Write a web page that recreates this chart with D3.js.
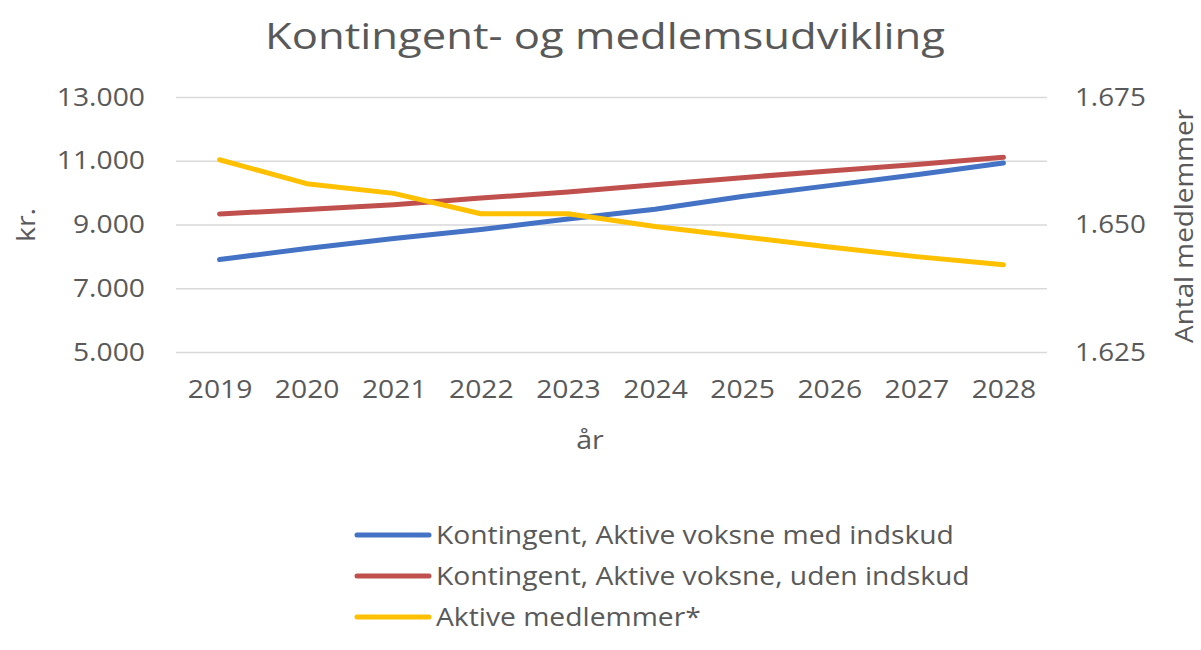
<!DOCTYPE html>
<html>
<head>
<meta charset="utf-8">
<script src="https://cdn.jsdelivr.net/npm/d3@7"></script>
<style>
  body { margin: 0; background: #fff; }
  svg text { font-family: "Open Sans", sans-serif; fill: #595959; }
</style>
</head>
<body>
<svg id="chart" width="1201" height="650"></svg>
<script>
const years = ["2019", "2020", "2021", "2022", "2023", "2024", "2025", "2026", "2027", "2028"];
const medIndskud = [7900, 8250, 8560, 8840, 9170, 9480, 9880, 10220, 10560, 10930];
const udenIndskud = [9330, 9470, 9620, 9830, 10020, 10250, 10470, 10680, 10880, 11110];
const medlemmer = [1662.7, 1658.0, 1656.1, 1652.1, 1652.1, 1649.6, 1647.6, 1645.6, 1643.7, 1642.1];
const leftTicks = [5000, 7000, 9000, 11000, 13000];
const rightTicks = [1625, 1650, 1675];

const series = [
    { label: "Kontingent, Aktive voksne med indskud", values: medIndskud, color: "#4472C4", axis: "left" },
    { label: "Kontingent, Aktive voksne, uden indskud", values: udenIndskud, color: "#C0504D", axis: "left" },
    { label: "Aktive medlemmer*", values: medlemmer, color: "#FFC000", axis: "right" }
];

const svg = d3.select("#chart");
const margin = { top: 97, right: 154, bottom: 298, left: 176 };
const W = 1201, H = 650;
const iw = W - margin.left - margin.right;
const ih = H - margin.top - margin.bottom;

const fmt = d3.formatLocale({ decimal: ",", thousands: ".", grouping: [3], currency: ["", " kr."] }).format(",.0f");

// the reference text is a little wider than Open Sans, so stretch it
function stretch(sel, k) {
    sel.each(function () {
        const w = this.getComputedTextLength();
        d3.select(this).attr("textLength", w * k).attr("lengthAdjust", "spacingAndGlyphs");
    });
}

const x = d3.scalePoint().domain(years).range([0, iw]).padding(0.5);
const yL = d3.scaleLinear().domain([5000, 13000]).range([ih, 0]);
const yR = d3.scaleLinear().domain([1625, 1675]).range([ih, 0]);

const g = svg.append("g").attr("transform", `translate(${margin.left},${margin.top})`);

// gridlines from the left axis
g.append("g")
    .call(d3.axisLeft(yL).tickValues(leftTicks).tickSize(-iw).tickFormat(""))
    .call(s => s.select(".domain").remove())
    .selectAll("line").attr("stroke", "#d9d9d9").attr("stroke-width", 1.5);

// left tick labels
g.append("g")
    .call(d3.axisLeft(yL).tickValues(leftTicks).tickSize(0).tickPadding(31).tickFormat(fmt))
    .call(s => s.select(".domain").remove())
    .selectAll("text").attr("font-size", "25px").style("font-family", null)
    .call(stretch, 1.13);

// right tick labels
g.append("g").attr("transform", `translate(${iw},0)`)
    .call(d3.axisRight(yR).tickValues(rightTicks).tickSize(0).tickPadding(28).tickFormat(d => fmt(d)))
    .call(s => s.select(".domain").remove())
    .selectAll("text").attr("font-size", "25px").style("font-family", null)
    .call(stretch, 1.11);

// x axis labels
g.append("g").attr("transform", `translate(0,${ih})`)
    .call(d3.axisBottom(x).tickSize(0).tickPadding(28))
    .call(s => s.select(".domain").remove())
    .selectAll("text").attr("font-size", "25px").style("font-family", null)
    .call(stretch, 1.13);

g.selectAll(".tick text").attr("fill", "#595959");

// lines
series.forEach(s => {
    const yy = s.axis === "left" ? yL : yR;
    const line = d3.line().x((d, i) => x(years[i])).y(d => yy(d));
    g.append("path")
        .datum(s.values)
        .attr("fill", "none")
        .attr("stroke", s.color)
        .attr("stroke-width", 5)
        .attr("stroke-linejoin", "round")
        .attr("stroke-linecap", "round")
        .attr("d", line);
});

// title
svg.append("text").attr("x", 605).attr("y", 49).attr("text-anchor", "middle")
    .attr("font-size", "37px").text("Kontingent- og medlemsudvikling")
    .attr("textLength", 680).attr("lengthAdjust", "spacingAndGlyphs");

// axis titles
svg.append("text").attr("transform", "translate(35,225) rotate(-90)").attr("text-anchor", "middle")
    .attr("font-size", "26px").text("kr.").call(stretch, 1.1);
svg.append("text").attr("transform", "translate(1193,226) rotate(-90)").attr("text-anchor", "middle")
    .attr("font-size", "26px").text("Antal medlemmer").call(stretch, 1.07);
svg.append("text").attr("x", 590).attr("y", 449).attr("text-anchor", "middle")
    .attr("font-size", "26px").text("år").call(stretch, 1.1);

// legend
const lg = svg.append("g").attr("transform", "translate(357,535)");
series.forEach((s, i) => {
    lg.append("line").attr("x1", 0).attr("x2", 72).attr("y1", i * 41).attr("y2", i * 41)
        .attr("stroke", s.color).attr("stroke-width", 5).attr("stroke-linecap", "round");
    lg.append("text").attr("x", 79).attr("y", i * 41 + 9)
        .attr("font-size", "25px").text(s.label).call(stretch, 1.13);
});
</script>
</body>
</html>
